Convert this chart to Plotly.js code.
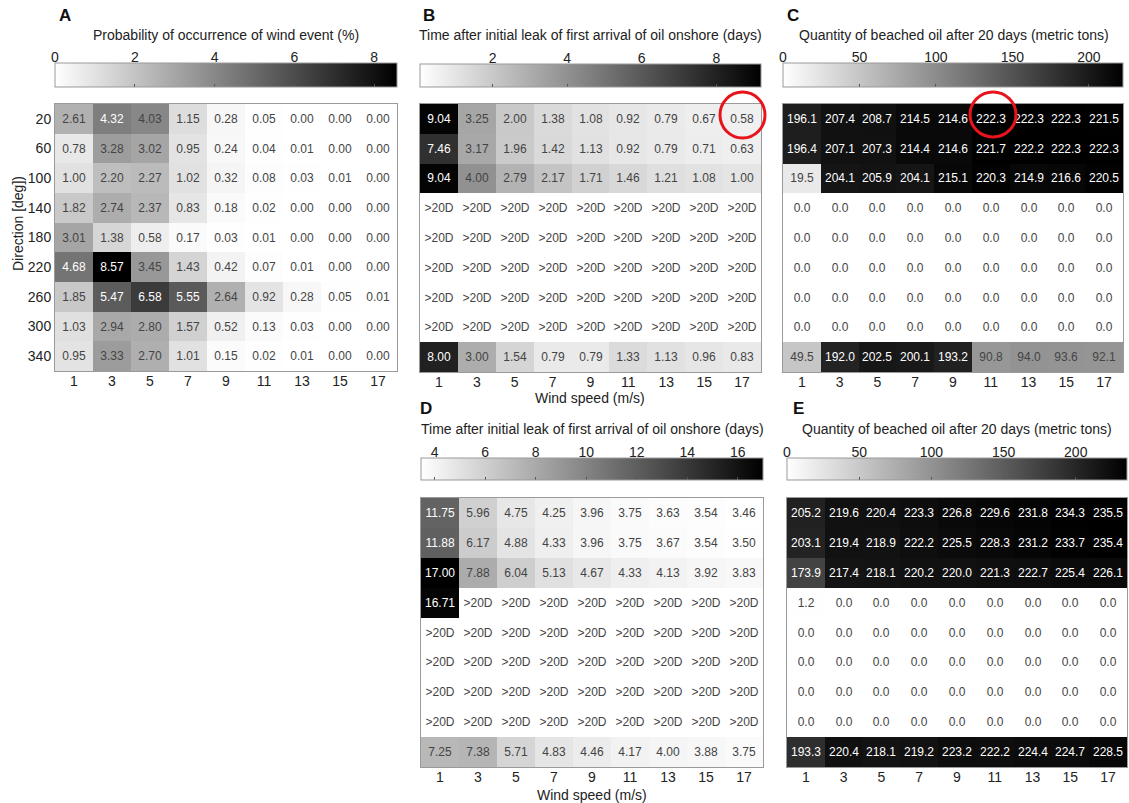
<!DOCTYPE html>
<html>
<head>
<meta charset="utf-8">
<script src="https://cdn.plot.ly/plotly-3.0.1.min.js"></script>
<style>html,body{margin:0;padding:0;background:#fff;}#chart{width:1129px;height:803px;}</style>
</head>
<body>
<div id="chart"></div>
<script>
// ---- data ----
const windSpeeds = [1, 3, 5, 7, 9, 11, 13, 15, 17];
const directions = [20, 60, 100, 140, 180, 220, 260, 300, 340];

const probabilityA = [
  [2.61, 4.32, 4.03, 1.15, 0.28, 0.05, 0.00, 0.00, 0.00],
  [0.78, 3.28, 3.02, 0.95, 0.24, 0.04, 0.01, 0.00, 0.00],
  [1.00, 2.20, 2.27, 1.02, 0.32, 0.08, 0.03, 0.01, 0.00],
  [1.82, 2.74, 2.37, 0.83, 0.18, 0.02, 0.00, 0.00, 0.00],
  [3.01, 1.38, 0.58, 0.17, 0.03, 0.01, 0.00, 0.00, 0.00],
  [4.68, 8.57, 3.45, 1.43, 0.42, 0.07, 0.01, 0.00, 0.00],
  [1.85, 5.47, 6.58, 5.55, 2.64, 0.92, 0.28, 0.05, 0.01],
  [1.03, 2.94, 2.80, 1.57, 0.52, 0.13, 0.03, 0.00, 0.00],
  [0.95, 3.33, 2.70, 1.01, 0.15, 0.02, 0.01, 0.00, 0.00]
];
const N = null; // >20 days
const arrivalB = [
  [9.04, 3.25, 2.00, 1.38, 1.08, 0.92, 0.79, 0.67, 0.58],
  [7.46, 3.17, 1.96, 1.42, 1.13, 0.92, 0.79, 0.71, 0.63],
  [9.04, 4.00, 2.79, 2.17, 1.71, 1.46, 1.21, 1.08, 1.00],
  [N, N, N, N, N, N, N, N, N],
  [N, N, N, N, N, N, N, N, N],
  [N, N, N, N, N, N, N, N, N],
  [N, N, N, N, N, N, N, N, N],
  [N, N, N, N, N, N, N, N, N],
  [8.00, 3.00, 1.54, 0.79, 0.79, 1.33, 1.13, 0.96, 0.83]
];
const beachedC = [
  [196.1, 207.4, 208.7, 214.5, 214.6, 222.3, 222.3, 222.3, 221.5],
  [196.4, 207.1, 207.3, 214.4, 214.6, 221.7, 222.2, 222.3, 222.3],
  [19.5, 204.1, 205.9, 204.1, 215.1, 220.3, 214.9, 216.6, 220.5],
  [0, 0, 0, 0, 0, 0, 0, 0, 0],
  [0, 0, 0, 0, 0, 0, 0, 0, 0],
  [0, 0, 0, 0, 0, 0, 0, 0, 0],
  [0, 0, 0, 0, 0, 0, 0, 0, 0],
  [0, 0, 0, 0, 0, 0, 0, 0, 0],
  [49.5, 192.0, 202.5, 200.1, 193.2, 90.8, 94.0, 93.6, 92.1]
];
const arrivalD = [
  [11.75, 5.96, 4.75, 4.25, 3.96, 3.75, 3.63, 3.54, 3.46],
  [11.88, 6.17, 4.88, 4.33, 3.96, 3.75, 3.67, 3.54, 3.50],
  [17.00, 7.88, 6.04, 5.13, 4.67, 4.33, 4.13, 3.92, 3.83],
  [16.71, N, N, N, N, N, N, N, N],
  [N, N, N, N, N, N, N, N, N],
  [N, N, N, N, N, N, N, N, N],
  [N, N, N, N, N, N, N, N, N],
  [N, N, N, N, N, N, N, N, N],
  [7.25, 7.38, 5.71, 4.83, 4.46, 4.17, 4.00, 3.88, 3.75]
];
const beachedE = [
  [205.2, 219.6, 220.4, 223.3, 226.8, 229.6, 231.8, 234.3, 235.5],
  [203.1, 219.4, 218.9, 222.2, 225.5, 228.3, 231.2, 233.7, 235.4],
  [173.9, 217.4, 218.1, 220.2, 220.0, 221.3, 222.7, 225.4, 226.1],
  [1.2, 0, 0, 0, 0, 0, 0, 0, 0],
  [0, 0, 0, 0, 0, 0, 0, 0, 0],
  [0, 0, 0, 0, 0, 0, 0, 0, 0],
  [0, 0, 0, 0, 0, 0, 0, 0, 0],
  [0, 0, 0, 0, 0, 0, 0, 0, 0],
  [193.3, 220.4, 218.1, 219.2, 223.2, 222.2, 224.4, 224.7, 228.5]
];

const titleProb = 'Probability of occurrence of wind event (%)';
const titleTime = 'Time after initial leak of first arrival of oil onshore (days)';
const titleOil = 'Quantity of beached oil after 20 days (metric tons)';

// ---- layout helpers ----
const W = 1129, H = 803;
const FONT = 'Liberation Sans, Arial, Helvetica, sans-serif';
const px = v => v / W;
const py = v => 1 - v / H;

const panels = [
  {letter:'A', z:probabilityA, dec:2, zmin:0, zmax:8.57, dtick:2, plot:[55,397,104,371], cb:[55,397,63,87], title:titleProb, tx:226, ty:35, lx:57, ly:16, showY:true},
  {letter:'B', z:arrivalB, dec:2, zmin:0.05, zmax:9.2, dtick:2, plot:[420,761,104,372], cb:[420,761,64,87], title:titleTime, tx:590, ty:35, lx:421, ly:16},
  {letter:'C', z:beachedC, dec:1, zmin:0, zmax:222.3, dtick:50, plot:[783,1123,104,372], cb:[783,1123,63,87], title:titleOil, tx:954, ty:35, lx:785, ly:16},
  {letter:'D', z:arrivalD, dec:2, zmin:3.46, zmax:17.0, dtick:2, plot:[421,763,498,767], cb:[421,763,458,480], title:titleTime, tx:592, ty:429, lx:418, ly:408},
  {letter:'E', z:beachedE, dec:1, zmin:0, zmax:235.5, dtick:50, plot:[787,1127,498,767], cb:[787,1127,458,480], title:titleOil, tx:957, ty:429, lx:791, ly:408}
];

const grey = [[0, '#ffffff'], [1, '#000000']];
const data = [];
const layout = {
  width: W, height: H,
  margin: {l:0, r:0, t:0, b:0},
  paper_bgcolor: '#fff', plot_bgcolor: 'rgba(0,0,0,0)',
  font: {family: FONT, size: 13, color: '#222'},
  showlegend: false,
  annotations: [],
  shapes: []
};

panels.forEach((p, i) => {
  const n = i + 1, m = i + 6;
  const xa = n === 1 ? 'x' : 'x' + n, ya = n === 1 ? 'y' : 'y' + n;
  const text = p.z.map(r => r.map(v => v === null ? '>20D' : v.toFixed(p.dec)));
  data.push({
    type: 'heatmap', x: windSpeeds, y: directions, z: p.z, text: text,
    texttemplate: '%{text}', textfont: {family: FONT, size: 12},
    colorscale: grey, zmin: p.zmin, zmax: p.zmax, xaxis: xa, yaxis: ya,
    hoverongaps: false,
    colorbar: {
      orientation: 'h', x: px(p.cb[0]), xanchor: 'left', y: py(p.cb[2]), yanchor: 'top',
      len: p.cb[1] - p.cb[0], lenmode: 'pixels', thickness: p.cb[3] - p.cb[2], thicknessmode: 'pixels',
      xpad: 0, ypad: 0, borderwidth: 0, outlinewidth: 1, outlinecolor: '#999',
      showticklabels: false, ticks: 'inside', ticklen: 3, tickcolor: '#555', tick0: 0, dtick: p.dtick
    }
  });
  // invisible carrier so the colour-bar label axis is drawn
  data.push({
    type: 'scatter', mode: 'none', x: [p.zmin, p.zmax], y: [0.5, 0.5],
    xaxis: 'x' + m, yaxis: 'y' + m, hoverinfo: 'skip', showlegend: false
  });
  const axKey = n === 1 ? '' : n;
  layout['xaxis' + axKey] = {
    domain: [px(p.plot[0]), px(p.plot[1])], anchor: ya, range: [0, 18],
    tickvals: windSpeeds, ticks: '', showgrid: false, zeroline: false,
    showline: true, mirror: true, linecolor: '#9a9a9a', linewidth: 1,
    ticklabelstandoff: -3,
    tickfont: {size: 14, color: '#222'}, fixedrange: true
  };
  layout['yaxis' + axKey] = {
    domain: [py(p.plot[3]), py(p.plot[2])], anchor: xa, range: [360, 0],
    tickvals: directions, ticks: '', showgrid: false, zeroline: false,
    showline: true, mirror: true, linecolor: '#9a9a9a', linewidth: 1,
    showticklabels: !!p.showY, tickfont: {size: 14, color: '#222'}, fixedrange: true
  };
  // label axis for colour bar (tick labels above bar)
  layout['xaxis' + m] = {
    domain: [px(p.cb[0]), px(p.cb[1])], anchor: 'y' + m, side: 'top',
    range: [p.zmin, p.zmax], tick0: 0, dtick: p.dtick, ticks: '',
    showgrid: false, zeroline: false, showline: false, ticklabelstandoff: -3,
    tickfont: {size: 14, color: '#222'}, fixedrange: true
  };
  layout['yaxis' + m] = {
    domain: [py(p.cb[3]), py(p.cb[2])], anchor: 'x' + m, visible: false, range: [0, 1], fixedrange: true
  };
  layout.annotations.push({
    text: p.title, xref: 'paper', yref: 'paper', x: px(p.tx), y: py(p.ty),
    xanchor: 'center', yanchor: 'middle', showarrow: false, font: {size: 14, color: '#222'}
  });
  layout.annotations.push({
    text: '<b>' + p.letter + '</b>', xref: 'paper', yref: 'paper', x: px(p.lx), y: py(p.ly),
    xanchor: 'left', yanchor: 'middle', showarrow: false, font: {size: 17, color: '#111'}
  });
});

layout.annotations.push(
  {text: 'Direction [deg])', xref: 'paper', yref: 'paper', x: px(18), y: py(224), textangle: -90,
   xanchor: 'center', yanchor: 'middle', showarrow: false, font: {size: 14, color: '#222'}},
  {text: 'Wind speed (m/s)', xref: 'paper', yref: 'paper', x: px(590), y: py(398),
   xanchor: 'center', yanchor: 'middle', showarrow: false, font: {size: 14, color: '#222'}},
  {text: 'Wind speed (m/s)', xref: 'paper', yref: 'paper', x: px(592), y: py(795),
   xanchor: 'center', yanchor: 'middle', showarrow: false, font: {size: 14, color: '#222'}}
);

// red highlight circles
layout.shapes.push(
  {type: 'circle', xref: 'paper', yref: 'paper', x0: px(720), x1: px(765), y0: py(92), y1: py(138),
   line: {color: '#e8141b', width: 3}},
  {type: 'circle', xref: 'paper', yref: 'paper', x0: px(970), x1: px(1016), y0: py(92), y1: py(137),
   line: {color: '#e8141b', width: 3}}
);

Plotly.newPlot('chart', data, layout, {displayModeBar: false, staticPlot: true});
</script>
</body>
</html>
